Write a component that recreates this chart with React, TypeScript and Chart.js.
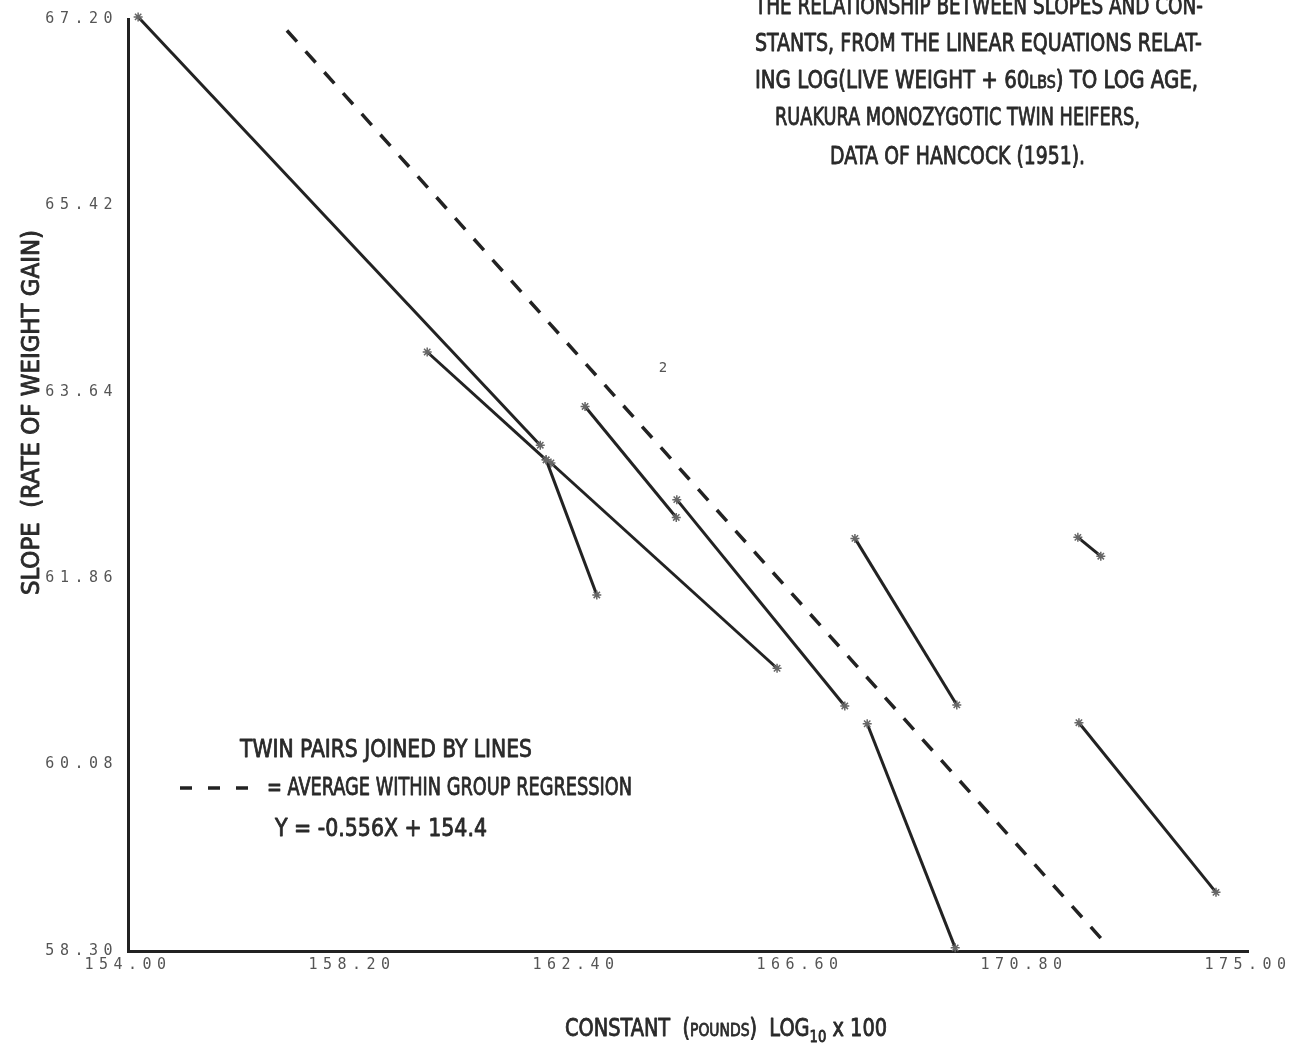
import React, { useEffect, useRef } from 'react';
import { Chart, registerables } from 'chart.js';

Chart.register(...registerables);

// ---- axis ticks ----
const xTickValues = [154.0, 158.2, 162.4, 166.6, 170.8, 175.0];
const yTickValues = [58.3, 60.08, 61.86, 63.64, 65.42, 67.2];

// ---- twin pairs (constant, slope) : first and second twin of each pair ----
const pairFirstX = [154.19, 159.61, 161.84, 161.93, 162.57, 164.29, 167.63, 167.86, 171.81, 171.83];
const pairFirstY = [67.22, 64.02, 62.99, 62.96, 63.5, 62.61, 62.24, 60.47, 62.25, 60.48];
const pairSecondX = [161.73, 161.84, 162.79, 166.17, 164.28, 167.44, 169.54, 169.51, 172.24, 174.4];
const pairSecondY = [63.13, 62.99, 61.7, 61.0, 62.44, 60.64, 60.65, 58.33, 62.07, 58.86];

// ---- average within group regression (dashed) ----
const regressionX = [156.98, 172.28];
const regressionY = [67.09, 58.4];

// ---- small note on the plot ----
const noteText = ['2'];
const noteX = [164.03];
const noteY = [63.86];

// ---- texts ----
const titleLines = [
  'THE RELATIONSHIP BETWEEN SLOPES AND CON-',
  'STANTS, FROM THE LINEAR EQUATIONS RELAT-',
  'ING LOG(LIVE WEIGHT + 60|LBS|) TO LOG AGE,',
  'RUAKURA MONOZYGOTIC TWIN HEIFERS,',
  'DATA OF HANCOCK (1951).',
];
const legendLine1 = 'TWIN PAIRS JOINED BY LINES';
const legendLine2 = '= AVERAGE WITHIN GROUP REGRESSION';
const legendLine3 = 'Y = -0.556X + 154.4';
const yTitle = 'SLOPE  (RATE OF WEIGHT GAIN)';

const FONT = '"DejaVu Sans Condensed", "DejaVu Sans", sans-serif';
const TEXT_COLOR = '#2a2a2a';

type Seg = { t: string; s?: number; dy?: number };

function drawFitted(ctx: CanvasRenderingContext2D, segs: Seg[], x0: number, x1: number, cy: number, size: number) {
  ctx.save();
  (ctx as any).letterSpacing = '0px';
  ctx.fillStyle = TEXT_COLOR;
  ctx.strokeStyle = TEXT_COLOR;
  ctx.lineWidth = 0.8;
  ctx.lineJoin = 'round';
  ctx.textBaseline = 'alphabetic';
  ctx.textAlign = 'left';
  let total = 0;
  const widths = segs.map((sg) => {
    ctx.font = `${size * (sg.s ?? 1)}px ${FONT}`;
    const w = ctx.measureText(sg.t).width;
    total += w;
    return w;
  });
  const sx = (x1 - x0) / total;
  ctx.translate(x0, cy + size * 0.3645);
  ctx.scale(sx, 1);
  let x = 0;
  segs.forEach((sg, i) => {
    ctx.font = `${size * (sg.s ?? 1)}px ${FONT}`;
    ctx.fillText(sg.t, x, sg.dy ?? 0);
    ctx.strokeText(sg.t, x, sg.dy ?? 0);
    x += widths[i];
  });
  ctx.restore();
}

function smallCaps(line: string, small: number): Seg[] {
  return line.split('|').map((t, i) => (i % 2 === 1 ? { t, s: small } : { t }));
}

const tickSpacingPlugin = {
  id: 'tickSpacing',
  beforeDraw(chart: any) {
    chart.ctx.letterSpacing = '5.5px';
  },
  beforeDatasetsDraw(chart: any) {
    chart.ctx.letterSpacing = '0px';
  },
};

const textPlugin = {
  id: 'figureText',
  afterDraw(chart: any) {
    const ctx: CanvasRenderingContext2D = chart.ctx;
    const S = 24;
    // title block
    const tl = [
      { x0: 755, x1: 1203, cy: 5 },
      { x0: 755, x1: 1202, cy: 42 },
      { x0: 755, x1: 1198, cy: 79 },
      { x0: 775, x1: 1140, cy: 116 },
      { x0: 830, x1: 1085, cy: 155 },
    ];
    titleLines.forEach((line, i) => {
      drawFitted(ctx, smallCaps(line, 0.72), tl[i].x0, tl[i].x1, tl[i].cy, S);
    });

    // legend block
    drawFitted(ctx, [{ t: legendLine1 }], 240, 532, 748, S);
    ctx.save();
    ctx.strokeStyle = '#222';
    ctx.lineWidth = 3.5;
    [180, 208, 236].forEach((x) => {
      ctx.beginPath();
      ctx.moveTo(x, 788);
      ctx.lineTo(x + 12, 788);
      ctx.stroke();
    });
    ctx.restore();
    drawFitted(ctx, [{ t: legendLine2 }], 267, 632, 786, S);
    drawFitted(ctx, [{ t: legendLine3 }], 275, 487, 827, S);

    // x axis title
    drawFitted(
      ctx,
      [
        { t: 'CONSTANT  ' },
        { t: '(' },
        { t: 'POUNDS', s: 0.72 },
        { t: ')  LOG' },
        { t: '10', s: 0.68, dy: 6 },
        { t: ' x 100' },
      ],
      565,
      887,
      1027,
      S
    );

    // y axis title (rotated)
    ctx.save();
    ctx.translate(30, 595);
    ctx.rotate(-Math.PI / 2);
    drawFitted(ctx, [{ t: yTitle }], 0, 365, 0, S);
    ctx.restore();

    // notes
    const xs = chart.scales.x;
    const ys = chart.scales.y;
    ctx.save();
    (ctx as any).letterSpacing = '0px';
    ctx.fillStyle = '#555';
    ctx.font = '14px "DejaVu Sans Mono", monospace';
    ctx.textAlign = 'center';
    ctx.textBaseline = 'middle';
    noteText.forEach((t, i) => {
      ctx.fillText(t, xs.getPixelForValue(noteX[i]), ys.getPixelForValue(noteY[i]));
    });
    ctx.restore();
  },
};

export default function App() {
  const ref = useRef<HTMLCanvasElement>(null);

  useEffect(() => {
    const canvas = ref.current;
    if (!canvas) return;

    const pairDatasets = pairFirstX.map((x, i) => ({
      label: `Pair ${i + 1}`,
      data: [
        { x, y: pairFirstY[i] },
        { x: pairSecondX[i], y: pairSecondY[i] },
      ],
      showLine: true,
      borderColor: '#222',
      borderWidth: 3,
      pointStyle: 'star',
      pointRadius: 4.5,
      pointBorderColor: '#666',
      pointBackgroundColor: '#666',
      pointBorderWidth: 1.5,
      clip: false,
    }));

    const regressionDataset = {
      label: 'Average within group regression',
      data: regressionX.map((x, i) => ({ x, y: regressionY[i] })),
      showLine: true,
      borderColor: '#222',
      borderWidth: 3.5,
      borderDash: [15, 13],
      borderCapStyle: 'butt',
      pointRadius: 0,
      clip: false,
    };

    const tickFont = { family: '"DejaVu Sans Mono", monospace', size: 15 };

    const chart = new Chart(canvas, {
      type: 'scatter',
      data: { datasets: [regressionDataset, ...pairDatasets] as any },
      options: {
        animation: false,
        responsive: true,
        maintainAspectRatio: false,
        events: [],
        layout: { padding: { left: 0, top: 18, right: 49, bottom: 0 } },
        plugins: {
          legend: { display: false },
          tooltip: { enabled: false },
          title: { display: false },
        },
        scales: {
          x: {
            type: 'linear',
            min: 154,
            max: 175,
            grid: { display: false, drawTicks: false },
            border: { display: true, color: '#222', width: 3 },
            ticks: {
              padding: 5,
              color: '#555',
              font: tickFont,
              maxRotation: 0,
              autoSkip: false,
              callback: (v: any) => Number(v).toFixed(2),
            },
            afterBuildTicks: (s: any) => {
              s.ticks = xTickValues.map((value) => ({ value }));
            },
            afterFit: (s: any) => {
              s.height = 104;
            },
          },
          y: {
            type: 'linear',
            min: 58.3,
            max: 67.2,
            grid: { display: false, drawTicks: false },
            border: { display: true, color: '#222', width: 3 },
            ticks: {
              padding: 10,
              color: '#555',
              font: tickFont,
              autoSkip: false,
              callback: (v: any) => Number(v).toFixed(2),
            },
            afterBuildTicks: (s: any) => {
              s.ticks = yTickValues.map((value) => ({ value }));
            },
            afterFit: (s: any) => {
              s.width = 128;
            },
          },
        },
      } as any,
      plugins: [tickSpacingPlugin, textPlugin],
    });

    return () => chart.destroy();
  }, []);

  return (
    <div style={{ position: 'absolute', left: 0, top: 0, width: 1297, height: 1055, background: '#fff' }}>
      <canvas ref={ref} />
    </div>
  );
}
